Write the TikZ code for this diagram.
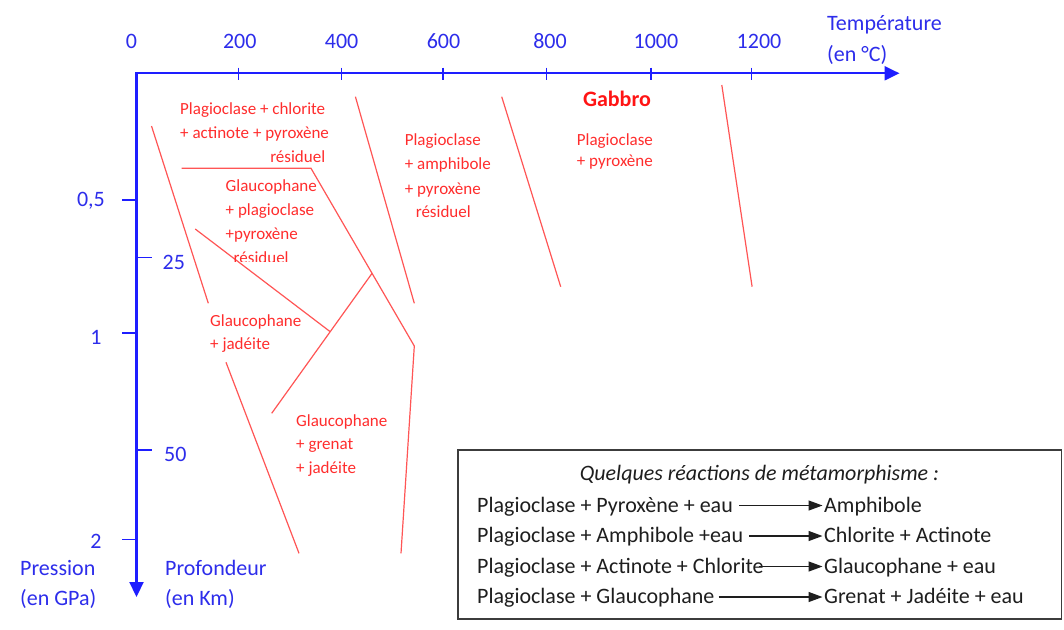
\documentclass[tikz,border=0pt]{standalone}
\usepackage{fontspec}
\setmainfont{Carlito}
\usetikzlibrary{arrows.meta,calc}
\definecolor{axblue}{RGB}{30,30,255}
\definecolor{txtblue}{RGB}{45,45,235}
\definecolor{lred}{RGB}{255,85,85}
\definecolor{tred}{RGB}{255,45,45}
\definecolor{gred}{RGB}{255,20,20}
\definecolor{boxgrey}{RGB}{60,60,60}
\definecolor{boxtxt}{RGB}{30,30,30}
\begin{document}
\begin{tikzpicture}[x=1pt,y=-1pt,
  lab/.style={inner sep=0pt, font=\fontsize{22}{26}\selectfont, text=txtblue},
  rlab/.style={inner sep=0pt, font=\fontsize{17}{20}\selectfont, text=tred, anchor=base west},
  bx/.style={inner sep=0pt, font=\fontsize{22}{26}\selectfont, text=boxtxt, anchor=base west},
  axisline/.style={axblue, line width=2.2pt, line join=miter,
    arrows={Triangle[length=15pt,width=14pt]-Triangle[length=15pt,width=14pt]}},
  tickline/.style={axblue, line width=1.5pt},
  bound/.style={lred, line width=1.2pt},
  reac/.style={boxtxt, line width=1.3pt, -{Triangle[length=14pt,width=10pt]}},
]
\useasboundingbox (0,0) rectangle (1064,629);
\fill[white] (0,0) rectangle (1064,629);

% axes
\coordinate (O) at (136.5,73.3);
\coordinate (Xend) at (899.5,73.3);
\coordinate (Yend) at (136.5,597);
\draw[axisline] (Xend) -- (O) -- (Yend);

% temperature ticks
\foreach \x in {238.3,341.6,443.2,546.3,650.9,751.7}
  \draw[tickline] (\x,67.5) -- (\x,79.5);
\node[lab, anchor=base] (t0) at (131.4,48) {0};
\node[lab, anchor=base] (t200) at (239.8,48) {200};
\node[lab, anchor=base] (t400) at (341.6,48) {400};
\node[lab, anchor=base] (t600) at (443.5,48) {600};
\node[lab, anchor=base] (t800) at (550,48) {800};
\node[lab, anchor=base] (t1000) at (655.9,48) {1000};
\node[lab, anchor=base] (t1200) at (759,48) {1200};
\node[lab, anchor=base west] (temp1) at (827,30.7) {Température};
\node[lab, anchor=base west] (temp2) at (827,61.5) {(en °C)};

% pressure / depth ticks
\foreach \y in {200,333,539.3}
  \draw[tickline] (122,\y) -- (136.5,\y);
\foreach \y in {257.3,450}
  \draw[tickline] (136.5,\y) -- (151.5,\y);
\node[lab, anchor=base east] (p05) at (105,206.5) {0,5};
\node[lab, anchor=base east] (p1) at (101.7,344) {1};
\node[lab, anchor=base east] (p2) at (101.7,548) {2};
\node[lab, anchor=base west] (d25) at (162.5,269) {25};
\node[lab, anchor=base west] (d50) at (164,461.5) {50};
\node[lab, anchor=base west] (pr1) at (20,575.7) {Pression};
\node[lab, anchor=base west] (pr2) at (20,605) {(en GPa)};
\node[lab, anchor=base west] (pf1) at (165,575.7) {Profondeur};
\node[lab, anchor=base west] (pf2) at (165,605) {(en Km)};

% boundaries
\coordinate (a1) at (151.5,126);
\coordinate (a2) at (208.3,303.3);
\coordinate (h1) at (181.5,168.3);
\coordinate (h2) at (311,168.3);
\coordinate (k1) at (414.3,346);
\coordinate (k2) at (401,553.3);
\coordinate (j1) at ($(h2)!0.591!(k1)$);
\coordinate (g1) at (271.7,413.3);
\coordinate (j2) at ($(j1)!0.417!(g1)$);
\coordinate (d1) at (195.2,229);
\coordinate (e1) at (226,362.3);
\coordinate (e2) at (299,553.3);
\coordinate (f1) at (355.4,96.7);
\coordinate (f2) at (414.3,303.3);
\coordinate (m1) at (501.7,96.7);
\coordinate (m2) at (560.7,286.7);
\coordinate (n1) at (721.8,85);
\coordinate (n2) at (752.1,286.7);
\draw[bound] (a1) -- (a2);
\draw[bound] (h1) -- (h2) -- (k1) -- (k2);
\draw[bound] (j1) -- (g1);
\draw[bound] (d1) -- (j2);
\draw[bound] (e1) -- (e2);
\draw[bound] (f1) -- (f2);
\draw[bound] (m1) -- (m2);
\draw[bound] (n1) -- (n2);

% red labels
\node[rlab] (A1) at (180,114.3) {Plagioclase + chlorite};
\node[rlab] (A2) at (180,138) {+ actinote + pyroxène};
\node[rlab, anchor=base east] (A3) at (325.4,162.3) {résiduel};
\node[rlab] (B1) at (225.5,191.7) {Glaucophane};
\node[rlab] (B2) at (225.5,215) {+ plagioclase};
\node[rlab] (B3) at (225.5,239) {+pyroxène};
\begin{scope}
  \clip (220,240) rectangle (330,261.8);
  \node[rlab] (B4) at (233.5,263.5) {résiduel};
\end{scope}
\node[rlab] (C1) at (404.6,145.7) {Plagioclase};
\node[rlab] (C2) at (404.6,169.3) {+ amphibole};
\node[rlab] (C3) at (404.6,194) {+ pyroxène};
\node[rlab] (C4) at (415.6,217) {résiduel};
\node[rlab, text=gred, font=\fontsize{22}{26}\selectfont\bfseries] (gab) at (582.8,106.7) {Gabbro};
\node[rlab] (D1) at (576.7,145.5) {Plagioclase};
\node[rlab] (D2) at (576.7,166.5) {+ pyroxène};
\node[rlab] (E1) at (210,326) {Glaucophane};
\node[rlab] (E2) at (210,349.3) {+ jadéite};
\node[rlab] (F1) at (296,426) {Glaucophane};
\node[rlab] (F2) at (296,449.3) {+ grenat};
\node[rlab] (F3) at (296,473.3) {+ jadéite};

% reactions box
\draw[boxgrey, line width=1.3pt] (458,450) rectangle (1061.5,619);
\node[bx, anchor=base, font=\fontsize{22}{26}\selectfont\itshape] (title) at (759.4,480) {Quelques réactions de métamorphisme :};
\node[bx] (l1) at (477,512) {Plagioclase + Pyroxène + eau};
\node[bx] (r1) at (824,512) {Amphibole};
\node[bx] (l2) at (477,542.5) {Plagioclase + Amphibole +eau};
\node[bx] (r2) at (824,542.5) {Chlorite + Actinote};
\node[bx] (l3) at (477,573) {Plagioclase + Actinote + Chlorite};
\node[bx] (r3) at (824,573) {Glaucophane + eau};
\node[bx] (l4) at (477,603.5) {Plagioclase + Glaucophane};
\node[bx] (r4) at (824,603.5) {Grenat + Jadéite + eau};
\draw[reac] ([xshift=6pt,yshift=6.5pt]l1.base east) -- ([xshift=-1.5pt,yshift=6.5pt]r1.base west);
\draw[reac] ([xshift=6pt,yshift=6.5pt]l2.base east) -- ([xshift=-1.5pt,yshift=6.5pt]r2.base west);
\draw[reac] ([xshift=-5pt,yshift=6.5pt]l3.base east) -- ([xshift=-1.5pt,yshift=6.5pt]r3.base west);
\draw[reac] ([xshift=4pt,yshift=6.5pt]l4.base east) -- ([xshift=-1.5pt,yshift=6.5pt]r4.base west);
\end{tikzpicture}
\end{document}
